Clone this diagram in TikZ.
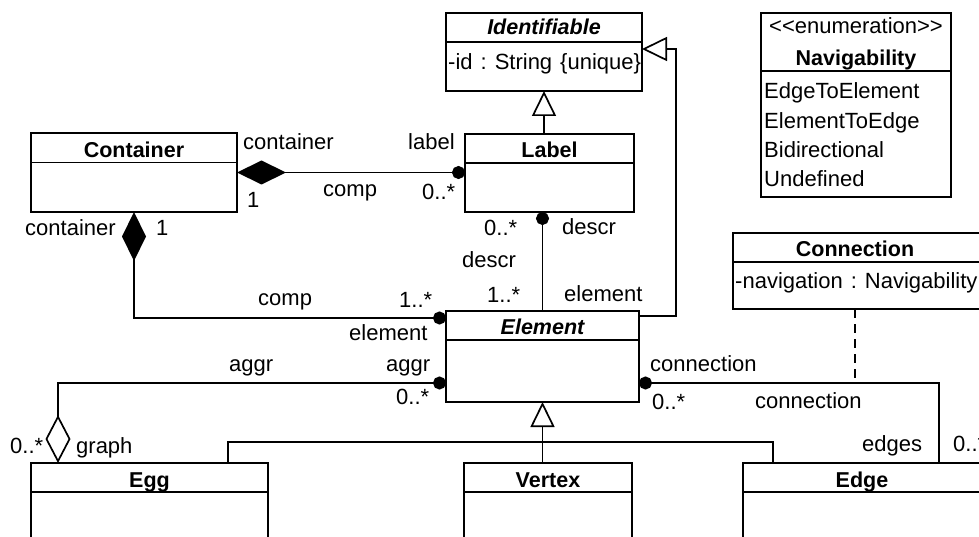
\documentclass[tikz,border=0pt]{standalone}
\usepackage{fontspec}
\newfontfamily\umlfont{Liberation Sans}
\usetikzlibrary{arrows.meta}

\newcommand{\gapsp}{\hspace{8pt}}

\tikzset{
  classbox/.style={draw, line width=1.7pt, inner sep=0pt, outer sep=0pt, anchor=north west},
  divider/.style={line width=1.7pt},
  title/.style={inner sep=0pt, anchor=base, font=\umlfont\fontsize{21.5}{25}\selectfont\bfseries},
  atitle/.style={title, font=\umlfont\fontsize{21.5}{25}\selectfont\bfseries\itshape},
  plain/.style={inner sep=0pt, anchor=base, font=\umlfont\fontsize{22}{25}\selectfont},
  lbl/.style={inner sep=0pt, anchor=base west, font=\umlfont\fontsize{22}{25}\selectfont},
  conn/.style={line width=1.7pt},
  compose/.style={conn, {Diamond[length=49pt,width=24pt]}-{Circle[length=13pt]}},
  aggregate/.style={conn, {Diamond[open,length=48pt,width=25pt]}-{Circle[length=13pt]}},
  navend/.style={conn, -{Circle[length=13pt]}},
  navstart/.style={conn, {Circle[length=13pt]}-},
  inherit/.style={conn, -{Triangle[open,length=25pt,width=24pt]}},
}

\begin{document}
\begin{tikzpicture}[x=1pt, y=-1pt]
\clip (0,0) rectangle (979,537);
\fill[white] (0,0) rectangle (979,537);

% ---- classes ----
\node[classbox, minimum width=196pt, minimum height=78pt] (identifiable) at (446,13) {};
\draw[divider] ([yshift=-29pt]identifiable.north west) -- ([yshift=-29pt]identifiable.north east);
\node[atitle] (tIdent) at (544,35) {Identifiable};
\node[lbl] (aIdent) at (448,70) {-id\gapsp:\gapsp String\gapsp\{unique\}};

\node[classbox, minimum width=169pt, minimum height=78pt] (label) at (465,134) {};
\draw[divider] ([yshift=-29pt]label.north west) -- ([yshift=-29pt]label.north east);
\node[title] (tLabel) at (549.5,158) {Label};

\node[classbox, minimum width=206pt, minimum height=79pt] (container) at (31,133) {};
\draw[divider] ([yshift=-29.5pt]container.north west) -- ([yshift=-29.5pt]container.north east);
\node[title] (tContainer) at (134,158) {Container};

\node[classbox, minimum width=193pt, minimum height=91pt] (element) at (446,311) {};
\draw[divider] ([yshift=-29pt]element.north west) -- ([yshift=-29pt]element.north east);
\node[atitle] (tElement) at (542.5,334) {Element};

\node[classbox, minimum width=237pt, minimum height=150pt] (egg) at (31,463) {};
\draw[divider] ([yshift=-29pt]egg.north west) -- ([yshift=-29pt]egg.north east);
\node[title] (tEgg) at (149.5,487) {Egg};

\node[classbox, minimum width=168pt, minimum height=150pt] (vertex) at (464,463) {};
\draw[divider] ([yshift=-29pt]vertex.north west) -- ([yshift=-29pt]vertex.north east);
\node[title] (tVertex) at (548,487) {Vertex};

\node[classbox, minimum width=239pt, minimum height=150pt] (edge) at (743,463) {};
\draw[divider] ([yshift=-29pt]edge.north west) -- ([yshift=-29pt]edge.north east);
\node[title] (tEdge) at (862,487) {Edge};

\node[classbox, minimum width=248pt, minimum height=76pt] (connection) at (733,233) {};
\draw[divider] ([yshift=-29pt]connection.north west) -- ([yshift=-29pt]connection.north east);
\node[title] (tConnection) at (855,256) {Connection};
\node[lbl] (aConnection) at (735,288) {-navigation\gapsp:\gapsp Navigability};

\node[classbox, minimum width=190pt, minimum height=184pt] (navigability) at (761,13) {};
\draw[divider] ([yshift=-58pt]navigability.north west) -- ([yshift=-58pt]navigability.north east);
\node[plain] (sNav) at (856,34) {<<enumeration>>};
\node[title] (tNav) at (856,66) {Navigability};
\node[lbl] (v1) at (764,99) {EdgeToElement};
\node[lbl] (v2) at (764,129) {ElementToEdge};
\node[lbl] (v3) at (764,158) {Bidirectional};
\node[lbl] (v4) at (764,187) {Undefined};

% ---- connectors ----
% Container <>-- Label
\draw[compose] (container.east) -- (container.east -| label.west);
% Container <>-- Element
\draw[compose] (container.south) |- ([yshift=-7pt]element.north west);
% Egg <>-- Element
\draw[aggregate] ([xshift=27pt]egg.north west) |- ([yshift=-72pt]element.north west);
% Element -- Label (descr)
\draw[navend] (element.north) -- (element.north |- label.south);
% Label --|> Identifiable
\draw[inherit] (identifiable.south |- label.north) -- (identifiable.south);
% Element --|> Identifiable
\draw[inherit] ([yshift=-5pt]element.north east) -- ++(37,0) |- ([yshift=3pt]identifiable.east);
% Egg, Vertex, Edge --|> Element
\coordinate (junction) at ([yshift=-40pt]element.south);
\draw[inherit] (element.south |- vertex.north) -- (element.south);
\draw[conn] ([xshift=197pt]egg.north west) |- (junction) -| ([xshift=30pt]edge.north west);
% Element -- Edge (connection), with association class
\coordinate (connA) at ([yshift=-72pt]element.north east);
\draw[navstart] (connA) -| ([xshift=196pt]edge.north west);
\coordinate (dashtop) at ([xshift=122pt]connection.south west);
\draw[conn, dash pattern=on 9pt off 6pt] (dashtop) -- (dashtop |- connA);

% ---- role names and multiplicities ----
\node[lbl] (r1) at (243,150) {container};
\node[lbl] (r2) at (247,208) {1};
\node[lbl] (r3) at (323,197) {comp};
\node[lbl] (r4) at (408,150) {label};
\node[lbl] (r5) at (422,200) {0..*};
\node[lbl] (r6) at (25,236) {container};
\node[lbl] (r7) at (156,236) {1};
\node[lbl] (r8) at (258,305) {comp};
\node[lbl] (r9) at (399,307) {1..*};
\node[lbl] (r10) at (349,340) {element};
\node[lbl] (r11) at (229,371) {aggr};
\node[lbl] (r12) at (386,371) {aggr};
\node[lbl] (r13) at (396,404) {0..*};
\node[lbl] (r14) at (10,453) {0..*};
\node[lbl] (r15) at (76,453) {graph};
\node[lbl] (r16) at (650,371) {connection};
\node[lbl] (r17) at (652,409) {0..*};
\node[lbl] (r18) at (755,408) {connection};
\node[lbl] (r19) at (862,451) {edges};
\node[lbl] (r20) at (953,451) {0..*};
\node[lbl] (r21) at (484,236) {0..*};
\node[lbl] (r22) at (562,235) {descr};
\node[lbl] (r23) at (462,267) {descr};
\node[lbl] (r24) at (487,302) {1..*};
\node[lbl] (r25) at (564,301) {element};
\end{tikzpicture}
\end{document}
